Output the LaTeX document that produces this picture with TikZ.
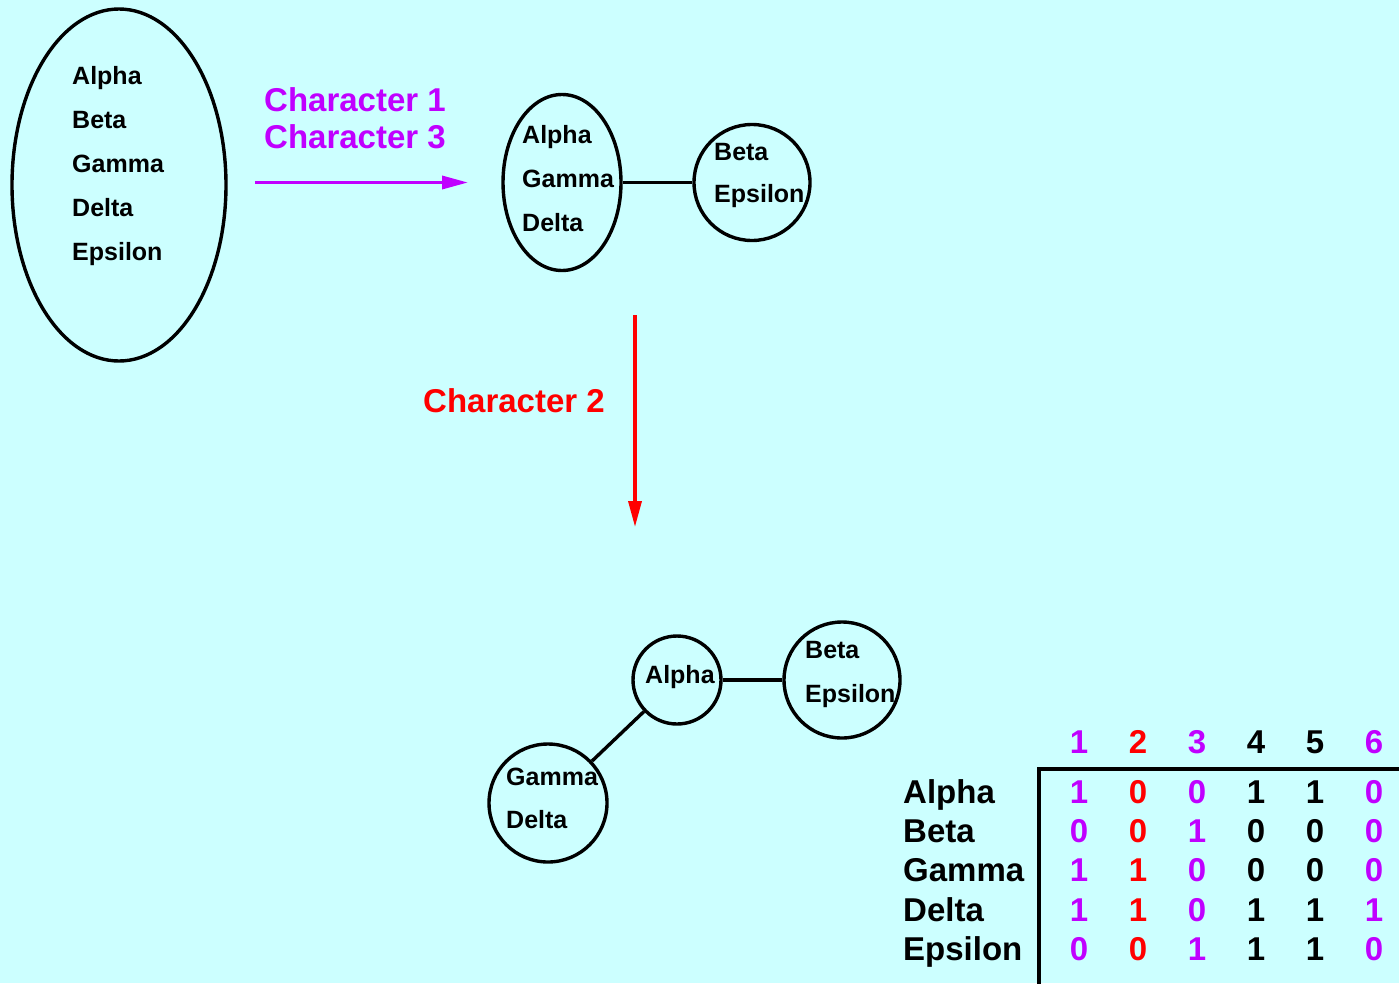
\documentclass[tikz,border=0pt]{standalone}
\usepackage{fontspec}
\setmainfont{Liberation Sans}
\usetikzlibrary{shapes.geometric,arrows.meta}
\definecolor{bg}{RGB}{204,255,255}
\definecolor{mag}{RGB}{192,0,255}
\definecolor{rd}{RGB}{255,0,0}
\begin{document}
\begin{tikzpicture}[x=1pt,y=-1pt,
  shapeline/.style={draw=black,line width=3.4pt,inner sep=0pt},
  oval/.style={shapeline,ellipse},
  ring/.style={shapeline,circle},
  lab/.style={anchor=base west,inner sep=0pt,font=\fontsize{25}{30}\selectfont\bfseries},
  big/.style={anchor=base west,inner sep=0pt,font=\fontsize{33}{40}\selectfont\bfseries},
  num/.style={anchor=base,inner sep=0pt,font=\fontsize{33}{40}\selectfont\bfseries},
  link/.style={line width=3.4pt},
  arr/.style={line width=3.4pt,-{Triangle[length=26pt,width=13pt]}},
  ]
\fill[bg] (0,0) rectangle (1399,983);
\useasboundingbox (0,0) rectangle (1399,983);

% big ellipse
\node[oval,minimum width=214,minimum height=352] (e1) at (119,185) {};
\node[lab] (t1a) at (72,84.5) {Alpha};
\node[lab] (t1b) at (72,128.5) {Beta};
\node[lab] (t1c) at (72,172.5) {Gamma};
\node[lab] (t1d) at (72,216.5) {Delta};
\node[lab] (t1e) at (72,260.5) {Epsilon};

% magenta arrow
\coordinate (m1) at (255,182.5);
\coordinate (m2) at (468,182.5);
\draw[arr,mag] (m1) -- (m2);
\node[big,text=mag] (c1) at (264,111.7) {Character 1};
\node[big,text=mag] (c3) at (264,148.3) {Character 3};

% middle stage
\node[oval,minimum width=118,minimum height=176] (e2) at (562,182.5) {};
\node[ring,minimum size=116] (r2) at (752,182.5) {};
\draw[link] (e2) -- (r2);
\node[lab] (t2a) at (522,143) {Alpha};
\node[lab] (t2c) at (522,187) {Gamma};
\node[lab] (t2d) at (522,231) {Delta};
\node[lab] (t2b) at (714,160) {Beta};
\node[lab] (t2e) at (714,202) {Epsilon};

% red arrow
\coordinate (v1) at (635,315);
\coordinate (v2) at (635,527);
\draw[arr,rd] (v1) -- (v2);
\node[big,text=rd] (c2) at (423,412) {Character 2};

% bottom stage
\node[ring,minimum size=88] (r3a) at (677,680) {};
\node[ring,minimum size=116] (r3b) at (842,680) {};
\node[ring,minimum size=118] (r3c) at (548,803) {};
\draw[link] (r3a) -- (r3b);
\draw[link] (r3a) -- (r3c);
\node[lab] (t3a) at (645,683) {Alpha};
\node[lab] (t3b) at (805,658) {Beta};
\node[lab] (t3e) at (805,702) {Epsilon};
\node[lab] (t3c) at (506,785) {Gamma};
\node[lab] (t3d) at (506,828) {Delta};

% table
\coordinate (tl) at (1039,769);
\coordinate (tr) at (1401,769);
\coordinate (tb) at (1039,985);
\draw[link] (tr) -- (tl) -- (tb);

\foreach \n/\x/\c in {1/1079/mag,2/1138/rd,3/1197/mag,4/1256/black,5/1315/black,6/1374/mag}
  \node[num,text=\c] (h\n) at (\x,753.3) {\n};

\foreach \name/\y/\a/\b/\cc/\d/\e/\f in {
  Alpha/803.3/1/0/0/1/1/0,
  Beta/842.5/0/0/1/0/0/0,
  Gamma/881.7/1/1/0/0/0/0,
  Delta/921/1/1/0/1/1/1,
  Epsilon/960/0/0/1/1/1/0}{
  \node[big] (row\name) at (903,\y) {\name};
  \node[num,text=mag] (\name1) at (1079,\y) {\a};
  \node[num,text=rd] (\name2) at (1138,\y) {\b};
  \node[num,text=mag] (\name3) at (1197,\y) {\cc};
  \node[num,text=black] (\name4) at (1256,\y) {\d};
  \node[num,text=black] (\name5) at (1315,\y) {\e};
  \node[num,text=mag] (\name6) at (1374,\y) {\f};
}
\end{tikzpicture}
\end{document}
